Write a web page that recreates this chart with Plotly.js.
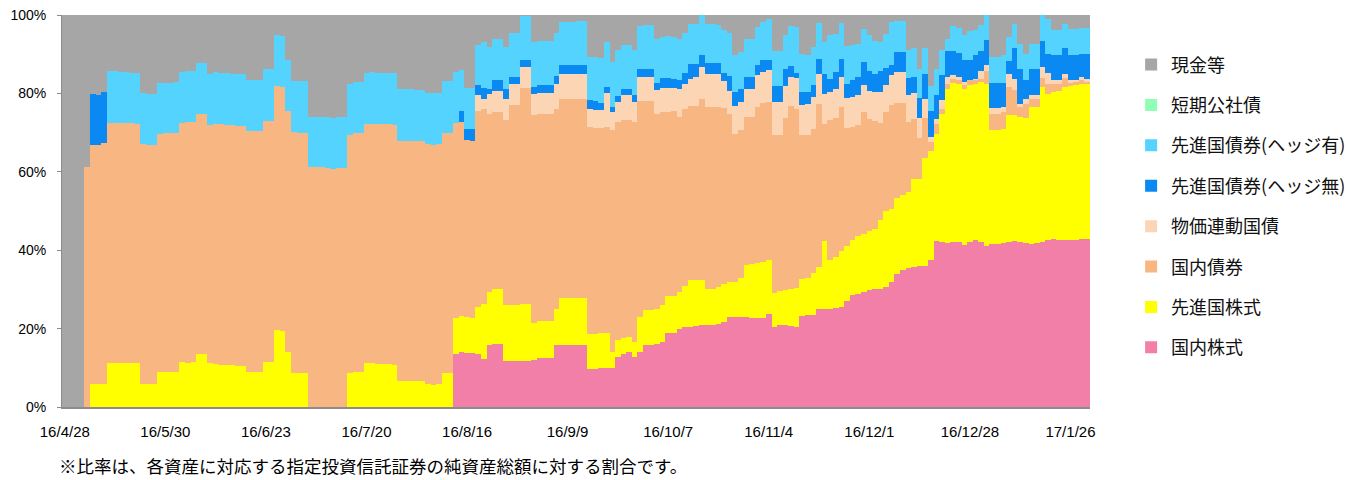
<!DOCTYPE html>
<html>
<head>
<meta charset="utf-8">
<script src="https://cdn.plot.ly/plotly-3.0.1.min.js"></script>
<style>
html,body{margin:0;padding:0;background:#fff;}
#chart{width:1348px;height:480px;}
</style>
</head>
<body>
<div id="chart"></div>
<script>
// Business days (category axis)
var dates = [
"16/4/28","16/5/2","16/5/6","16/5/9","16/5/10","16/5/11","16/5/12","16/5/13","16/5/16","16/5/17",
"16/5/18","16/5/19","16/5/20","16/5/23","16/5/24","16/5/25","16/5/26","16/5/27","16/5/30","16/5/31",
"16/6/1","16/6/2","16/6/3","16/6/6","16/6/7","16/6/8","16/6/9","16/6/10","16/6/13","16/6/14",
"16/6/15","16/6/16","16/6/17","16/6/20","16/6/21","16/6/22","16/6/23","16/6/24","16/6/27","16/6/28",
"16/6/29","16/6/30","16/7/1","16/7/4","16/7/5","16/7/6","16/7/7","16/7/8","16/7/11","16/7/12",
"16/7/13","16/7/14","16/7/15","16/7/19","16/7/20","16/7/21","16/7/22","16/7/25","16/7/26","16/7/27",
"16/7/28","16/7/29","16/8/1","16/8/2","16/8/3","16/8/4","16/8/5","16/8/8","16/8/9","16/8/10",
"16/8/12","16/8/15","16/8/16","16/8/17","16/8/18","16/8/19","16/8/22","16/8/23","16/8/24","16/8/25",
"16/8/26","16/8/29","16/8/30","16/8/31","16/9/1","16/9/2","16/9/5","16/9/6","16/9/7","16/9/8",
"16/9/9","16/9/12","16/9/13","16/9/14","16/9/15","16/9/16","16/9/20","16/9/21","16/9/23","16/9/26",
"16/9/27","16/9/28","16/9/29","16/9/30","16/10/3","16/10/4","16/10/5","16/10/6","16/10/7","16/10/11",
"16/10/12","16/10/13","16/10/14","16/10/17","16/10/18","16/10/19","16/10/20","16/10/21","16/10/24","16/10/25",
"16/10/26","16/10/27","16/10/28","16/10/31","16/11/1","16/11/2","16/11/4","16/11/7","16/11/8","16/11/9",
"16/11/10","16/11/11","16/11/14","16/11/15","16/11/16","16/11/17","16/11/18","16/11/21","16/11/22","16/11/24",
"16/11/25","16/11/28","16/11/29","16/11/30","16/12/1","16/12/2","16/12/5","16/12/6","16/12/7","16/12/8",
"16/12/9","16/12/12","16/12/13","16/12/14","16/12/15","16/12/16","16/12/19","16/12/20","16/12/21","16/12/22",
"16/12/26","16/12/27","16/12/28","16/12/29","16/12/30","17/1/4","17/1/5","17/1/6","17/1/10","17/1/11",
"17/1/12","17/1/13","17/1/16","17/1/17","17/1/18","17/1/19","17/1/20","17/1/23","17/1/24","17/1/25",
"17/1/26","17/1/27","17/1/30","17/1/31"
];

var tickLabels = ["16/4/28","16/5/30","16/6/23","16/7/20","16/8/16","16/9/9","16/10/7","16/11/4","16/12/1","16/12/28","17/1/26"];

// 国内株式
var domesticEquity = [
0,0,0,0,0,0,0,0,0,0,
0,0,0,0,0,0,0,0,0,0,
0,0,0,0,0,0,0,0,0,0,
0,0,0,0,0,0,0,0,0,0,
0,0,0,0,0,0,0,0,0,0,
0,0,0,0,0,0,0,0,0,0,
0,0,0,0,0,0,0,0,0,0,
13.6,14.0,13.9,13.8,13.4,12.3,15.7,16.0,16.0,11.7,
11.7,11.7,11.8,11.8,12.1,12.4,12.4,12.4,15.9,15.7,
15.7,15.7,15.7,15.7,9.8,9.8,9.9,9.9,9.9,12.8,
13.6,14.0,12.8,14.0,15.7,15.7,16.0,16.6,19.0,19.0,
20.0,20.4,20.4,20.6,20.8,20.8,21.0,21.3,21.7,23.0,
23.0,23.0,23.0,22.8,22.8,22.7,23.8,20.4,20.8,21.0,
20.6,20.4,23.3,23.4,23.4,25.1,25.1,25.1,25.3,25.5,
27.0,28.5,28.9,29.3,29.8,30.0,30.2,30.6,31.9,34.0,
34.9,35.5,35.7,36.0,36.0,37.4,42.3,42.1,41.9,42.1,
42.1,41.4,42.1,42.5,42.1,41.2,41.7,41.7,41.8,42.1,
42.3,42.1,41.9,41.7,41.9,42.1,42.5,42.9,42.7,42.5,
42.7,42.7,42.9,42.9
];

// 先進国株式
var foreignEquity = [
0,0,0,0,0,5.8,5.8,5.8,11.2,11.2,
11.1,11.2,11.2,11.2,5.8,5.8,5.8,8.9,8.9,8.9,
9.0,11.6,11.3,11.4,13.6,13.6,11.1,10.9,10.8,10.6,
10.6,10.4,10.4,8.9,8.9,8.9,11.6,11.6,19.6,19.3,
14.0,8.8,8.8,8.8,0,0,0,0,0,0,
0,8.6,8.9,8.9,11.1,11.2,11.0,11.0,10.9,10.8,
6.6,6.6,6.6,6.6,6.6,5.8,5.7,5.8,8.8,8.8,
9.1,9.2,9.0,9.0,12.1,13.9,13.6,14.2,14.2,14.2,
14.2,14.2,14.4,14.4,9.4,9.5,9.5,9.5,9.2,12.1,
12.1,12.1,12.1,12.1,8.7,8.8,8.9,8.9,4.2,4.3,
4.1,3.9,3.7,9.0,9.1,9.1,9.1,9.3,9.2,9.2,
9.3,10.5,11.9,11.7,11.5,9.2,9.2,9.2,9.8,8.9,
9.0,10.0,13.1,13.6,14.0,14.4,13.6,8.7,8.7,8.8,
9.4,10.0,9.4,9.6,10.8,10.6,17.2,12.3,13.0,14.2,
14.2,14.0,14.7,14.9,15.0,15.5,17.4,19.3,18.7,19.4,
19.1,19.3,22.4,22.2,27.4,27.8,27.4,32.7,39.3,40.6,
40.4,39.6,40.1,40.0,40.8,41.3,28.9,28.9,29.2,32.3,
32.1,31.9,31.8,34.8,34.6,39.5,37.4,37.5,37.9,39.1,
39.2,39.4,39.6,39.6
];

// 国内債券
var domesticBond = [
0,0,0,0,61.2,61.0,61.1,61.6,61.3,61.2,
61.3,61.2,61.2,61.1,61.2,61.1,61.1,60.8,60.9,61.0,
60.9,60.8,61.3,61.3,61.1,61.1,60.9,61.4,61.4,61.4,
61.3,61.4,61.4,61.5,61.5,61.5,61.4,61.4,62.3,62.3,
61.5,61.3,61.2,61.2,61.1,61.1,61.1,61.0,60.7,61.0,
61.0,60.9,60.9,60.9,61.0,61.1,61.1,61.2,61.2,61.1,
61.3,61.3,61.2,61.2,61.2,61.2,61.2,61.2,61.2,61.2,
49.7,49.5,45.1,45.1,50.0,49.9,45.5,45.1,45.1,47.4,
51.1,51.1,55.2,55.2,52.9,52.9,52.9,52.9,51.0,50.7,
50.7,50.7,50.7,50.7,52.9,52.7,52.5,52.7,56.6,55.5,
55.6,55.4,56.1,55.0,53.2,53.2,49.7,49.4,47.1,47.3,
44.7,45.0,44.4,44.6,46.2,46.5,46.3,46.0,44.8,42.9,
37.7,37.6,37.9,37.6,39.7,40.5,40.5,40.4,40.0,43.8,
46.7,45.7,36.8,36.5,36.8,41.7,30.0,35.7,35.4,36.8,
30.1,29.0,28.3,31.1,28.6,27.4,24.9,25.4,26.4,24.2,
23.6,17.9,15.3,10.4,10.2,2.4,2.6,1.3,1.3,1.1,
0.8,1.2,1.1,0.8,0.9,3.1,4.2,4.2,4.3,7.2,
6.4,2.5,3.5,2.2,2.0,2.3,2.6,2.1,1.9,2.3,
0.8,0.8,0.8,0.4
];

// 物価連動国債
var inflationLinked = [
0,0,0,0,0,0,0,0,0,0,
0,0,0,0,0,0,0,0,0,0,
0,0,0,0,0,0,0,0,0,0,
0,0,0,0,0,0,0,0,0,0,
0,0,0,0,0,0,0,0,0,0,
0,0,0,0,0,0,0,0,0,0,
0,0,0,0,0,0,0,0,0,0,
0,0,0,0,4.0,2.4,5.1,5.3,5.3,5.2,
5.5,5.5,5.3,5.3,5.5,5.3,5.3,5.3,6.4,6.5,
6.5,6.5,6.5,6.5,4.5,4.5,4.5,8.5,4.5,5.3,
6.3,6.3,5.3,6.2,6.2,6.2,6.0,6.1,6.1,5.9,
7.0,6.6,7.1,7.3,8.2,8.5,8.5,8.5,6.8,5.9,
7.1,7.3,7.2,7.2,8.1,7.9,8.0,8.2,8.2,8.3,
7.5,7.9,7.5,7.7,8.1,7.6,7.6,7.3,7.3,7.7,
7.5,7.7,7.6,6.8,7.2,7.5,7.9,6.8,7.7,7.9,
7.9,6.8,6.6,5.0,4.9,1.3,1.1,2.1,1.7,0.8,
0.9,0.8,0.2,0.5,1.8,1.6,1.5,1.5,1.2,3.3,
3.0,0.8,1.3,1.0,1.2,2.8,2.8,0.8,0.8,1.1,
0.6,0.6,0.9,0.9
];

// 先進国債券(ヘッジ無)
var foreignBondUnhedged = [
0,0,0,0,0,13.1,12.7,13.0,0,0,
0,0,0,0,0,0,0,0,0,0,
0,0,0,0,0,0,0,0,0,0,
0,0,0,0,0,0,0,0,0,0,
0,0,0,0,0,0,0,0,0,0,
0,0,0,0,0,0,0,0,0,0,
0,0,0,0,0,0,0,0,0,0,
0,2.8,3.0,3.0,2.6,2.9,1.1,2.7,2.7,2.7,
1.6,1.6,1.7,1.7,1.7,2.1,2.1,2.1,1.9,2.2,
2.2,2.2,2.3,2.3,2.3,2.2,1.7,1.7,1.4,1.5,
1.4,1.4,1.8,1.9,2.1,2.1,1.9,2.5,2.5,2.4,
2.3,2.8,3.7,3.3,3.2,2.8,2.8,2.8,2.2,3.7,
3.6,3.1,3.0,3.0,2.6,2.9,2.7,4.2,4.2,4.2,
2.8,1.1,3.4,3.2,3.1,3.9,5.1,3.4,4.4,4.7,
3.7,4.1,4.7,5.8,5.2,4.6,5.4,4.4,2.6,5.1,
5.1,4.4,4.2,5.2,6.5,6.5,6.2,6.6,6.5,6.1,
6.2,5.6,5.1,5.9,5.1,6.3,6.4,6.4,6.2,3.3,
7.8,8.8,4.8,6.4,6.4,6.6,4.8,6.4,6.4,6.6,
6.6,6.4,5.9,6.3
];

// 先進国債券(ヘッジ有)
var foreignBondHedged = [
0,0,0,0,0,0,0,0,13.1,13.2,
13.1,13.0,12.9,13.0,13.0,12.9,12.9,13.0,12.9,12.8,
12.9,13.0,13.0,13.0,13.0,13.0,12.9,13.1,13.1,13.1,
13.1,13.1,13.1,12.9,12.9,12.9,13.1,13.1,13.1,13.1,
13.1,13.1,13.1,13.1,13.0,13.0,13.0,13.0,13.0,13.0,
13.0,13.0,13.1,13.1,13.0,13.1,13.1,13.1,13.1,13.2,
13.1,13.1,13.2,13.1,13.1,13.1,13.1,13.1,13.1,13.1,
13.1,10.4,10.4,10.4,10.2,11.6,10.8,10.5,10.5,10.6,
11.3,11.3,11.3,11.3,11.5,11.1,11.1,11.1,11.0,11.0,
11.0,11.0,11.1,11.1,11.1,11.2,11.5,11.5,11.5,11.7,
11.3,11.3,11.4,11.1,11.1,11.1,11.3,10.5,10.7,10.6,
10.7,10.1,10.3,10.3,10.0,10.0,10.0,9.7,10.8,11.1,
9.3,9.6,9.6,9.6,9.7,9.8,10.3,8.8,8.8,8.9,
10.2,11.8,9.7,9.5,9.6,9.1,8.1,11.2,9.8,9.1,
9.5,9.0,8.5,8.6,9.0,8.3,7.3,8.7,10.9,7.8,
7.8,7.3,7.3,7.5,6.6,6.5,6.5,6.4,3.3,6.5,
6.3,6.2,7.3,6.4,6.7,6.4,6.6,6.6,7.0,6.2,
6.2,6.6,6.8,6.6,6.6,6.6,8.8,6.6,6.4,6.2,
6.6,6.6,6.6,6.6
];

// 短期公社債
var shortTermBond = [
0,0,0,0,0,0,0,0,0,0,
0,0,0,0,0,0,0,0,0,0,
0,0,0,0,0,0,0,0,0,0,
0,0,0,0,0,0,0,0,0,0,
0,0,0,0,0,0,0,0,0,0,
0,0,0,0,0,0,0,0,0,0,
0,0,0,0,0,0,0,0,0,0,
0,0,0,0,0,0,0,0,0,0,
0,0,0,0,0,0,0,0,0,0,
0,0,0,0,0,0,0,0,0,0,
0,0,0,0,0,0,0,0,0,0,
0,0,0,0,0,0,0,0,0,0,
0,0,0,0,0,0,0,0,0,0,
0,0,0,0,0,0,0,0,0,0,
0,0,0,0,0,0,0,0,0,0,
0,0,0,0,0,0,0,0,0,0,
0,0,0,0,0,0,0,0,0,0,
0,0,0,0,0,0,0,0,0,0,
0,0,0,0
];

// 現金等
var cash = [
100,100,100,100,38.8,20.1,20.4,19.6,14.4,14.4,
14.5,14.6,14.7,14.7,20.0,20.2,20.2,17.3,17.3,17.3,
17.2,14.6,14.4,14.3,12.3,12.3,15.1,14.6,14.7,14.9,
15.0,15.1,15.1,16.7,16.7,16.7,13.9,13.9,5.0,5.3,
11.4,16.8,16.9,16.9,25.9,25.9,25.9,26.0,26.3,26.0,
26.0,17.5,17.1,17.1,14.9,14.6,14.8,14.7,14.8,14.9,
19.0,19.0,19.0,19.1,19.1,19.9,20.0,19.9,16.9,16.9,
14.5,14.1,18.6,18.7,7.7,7.0,8.2,6.2,6.2,8.2,
4.6,4.6,0.3,0.3,6.9,6.7,6.7,6.7,4.6,1.8,
1.8,1.8,1.6,1.6,10.7,10.8,11.0,6.8,11.9,8.9,
7.7,7.7,8.9,2.8,2.6,2.6,6.0,5.6,5.4,5.6,
6.0,4.6,2.2,2.2,0.1,2.2,2.2,2.5,3.9,4.5,
10.3,9.4,6.2,6.2,3.1,1.8,1.1,9.3,9.3,5.0,
2.8,3.1,9.9,10.1,8.2,2.0,6.9,5.0,4.8,2.0,
8.0,7.7,7.3,3.5,5.2,6.7,6.9,4.8,1.8,1.6,
1.6,8.8,8.5,13.7,8.4,18.1,13.9,8.8,6.0,2.8,
3.3,5.2,4.1,3.9,2.6,0.1,10.7,10.7,10.3,5.6,
2.2,7.3,9.9,7.3,7.3,0.1,1.1,3.7,3.9,2.2,
3.5,3.5,3.3,3.3
];

// bottom-to-top stacking order
var seriesNames = ["国内株式","先進国株式","国内債券","物価連動国債","先進国債券(ヘッジ無)","先進国債券(ヘッジ有)","短期公社債","現金等"];
var seriesValues = [domesticEquity, foreignEquity, domesticBond, inflationLinked, foreignBondUnhedged, foreignBondHedged, shortTermBond, cash];
var seriesColors = ["#F17FA7","#FFFF00","#F8B782","#FCD5B5","#0B89F2","#55D3FF","#90FFB4","#A6A6A6"];

var traces = seriesNames.map(function(name, k){
  return {
    type: "bar",
    name: name,
    x: dates,
    y: seriesValues[k],
    legendgroup: "g" + k,
    legendrank: 1000 - k,
    marker: {color: seriesColors[k], line: {width: 0}},
    hoverinfo: "skip"
  };
});

var jp = "Noto Sans CJK JP, Noto Sans, sans-serif";
var lat = "Liberation Sans, Arial, sans-serif";

var layout = {
  width: 1348,
  height: 480,
  margin: {l: 62, r: 258, t: 15, b: 73, autoexpand: false},
  paper_bgcolor: "#ffffff",
  plot_bgcolor: "#ffffff",
  barmode: "stack",
  bargap: 0,
  showlegend: true,
  hovermode: false,
  xaxis: {
    type: "category",
    tickmode: "array",
    tickvals: tickLabels,
    ticktext: tickLabels,
    showgrid: false,
    zeroline: false,
    showline: true,
    linecolor: "#8C8C8C",
    linewidth: 2,
    ticks: "outside",
    ticklen: 10,
    tickcolor: "rgba(0,0,0,0)",
    tickfont: {family: lat, size: 15, color: "#000000"},
    tickangle: 0,
    fixedrange: true
  },
  yaxis: {
    range: [0, 100],
    tickvals: [0, 20, 40, 60, 80, 100],
    ticktext: ["0%","20%","40%","60%","80%","100%"],
    showgrid: false,
    zeroline: false,
    showline: true,
    linecolor: "#8C8C8C",
    linewidth: 1,
    ticks: "outside",
    ticklen: 4,
    tickcolor: "#8C8C8C",
    tickfont: {family: lat, size: 14, color: "#000000"},
    ticklabelstandoff: 8,
    fixedrange: true
  },
  legend: {
    x: 1.040,
    xanchor: "left",
    y: 0.92,
    yanchor: "top",
    traceorder: "grouped",
    tracegroupgap: 14,
    bgcolor: "rgba(0,0,0,0)",
    font: {family: jp, size: 18, color: "#111111"},
    itemclick: false,
    itemdoubleclick: false
  },
  annotations: [{
    xref: "paper", yref: "paper",
    x: -0.005, y: -0.1505,
    xanchor: "left", yanchor: "middle",
    showarrow: false,
    text: "※比率は、各資産に対応する指定投資信託証券の純資産総額に対する割合です。",
    font: {family: jp, size: 17.5, color: "#000000"}
  }]
};

Plotly.newPlot("chart", traces, layout, {displayModeBar: false, staticPlot: true});
</script>
</body>
</html>
